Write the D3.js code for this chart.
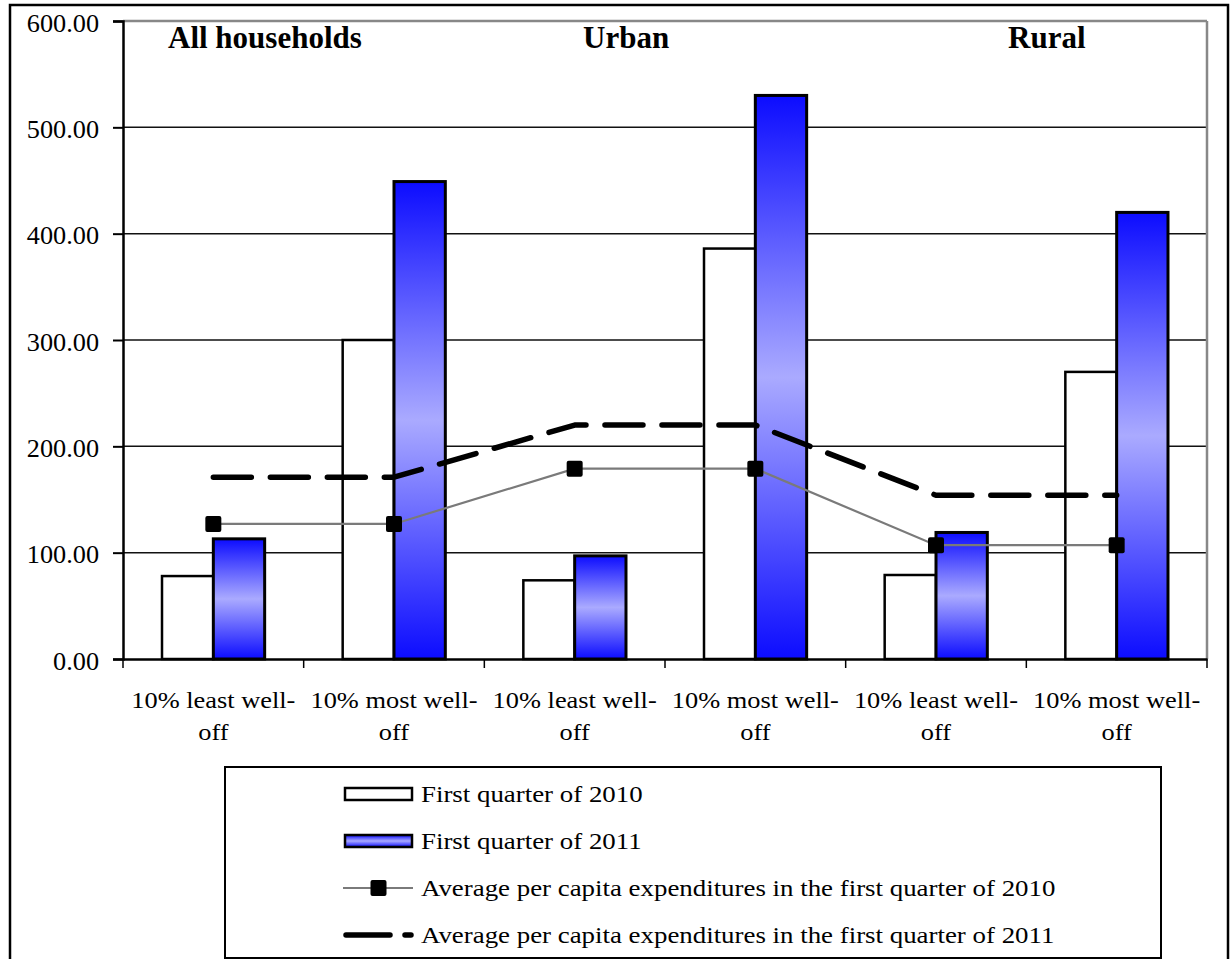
<!DOCTYPE html>
<html>
<head>
<meta charset="utf-8">
<script src="https://cdn.jsdelivr.net/npm/d3@7"></script>
<style>
  html, body { margin: 0; padding: 0; background: #fff; }
  svg { display: block; }
  text { font-family: "Liberation Serif", "Times New Roman", serif; fill: #000; }
</style>
</head>
<body>
<svg id="chart" width="1231" height="959"></svg>
<script>
// ---- data ----
const categories = [
  "10% least well-off", "10% most well-off",
  "10% least well-off", "10% most well-off",
  "10% least well-off", "10% most well-off"
];
const groupTitles = ["All households", "Urban", "Rural"];
const q1_2010 = [78, 300, 74, 386, 79, 270];
const q1_2011 = [113, 449, 97, 530, 119, 420];
const avg2010 = [127, 127, 179, 179, 107, 107];
const avg2011 = [171, 171, 220, 220, 154, 154];
const yTicks = [0, 100, 200, 300, 400, 500, 600];
const seriesNames = [
  "First quarter of 2010",
  "First quarter of 2011",
  "Average per capita expenditures in the first quarter of 2010",
  "Average per capita expenditures in the first quarter of 2011"
];

// ---- layout ----
const plot = { left: 123, right: 1207, top: 21, bottom: 659 };
const titleLeft = [168, 583, 1008];
const svg = d3.select("#chart");

const x = d3.scaleBand().domain(d3.range(categories.length))
  .range([plot.left, plot.right]).paddingInner(0).paddingOuter(0);
const xSub = d3.scaleBand().domain(["2010", "2011"])
  .range([0, x.bandwidth()]).paddingInner(0).paddingOuter(0.76);
const y = d3.scaleLinear().domain([0, 600]).range([plot.bottom, plot.top]);

// gradient for the 2011 bars: dark blue at the ends, pale in the middle
const defs = svg.append("defs");
function blueGradient(id) {
  const g = defs.append("linearGradient").attr("id", id)
    .attr("x1", 0).attr("y1", 0).attr("x2", 0).attr("y2", 1);
  g.append("stop").attr("offset", "0%").attr("stop-color", "#0c0cff");
  g.append("stop").attr("offset", "50%").attr("stop-color", "#aaaaff");
  g.append("stop").attr("offset", "100%").attr("stop-color", "#0c0cff");
}
blueGradient("blueV");

// outer frame
svg.append("rect").attr("x", 10).attr("y", 5).attr("width", 1218).attr("height", 970)
  .attr("fill", "#fff").attr("stroke", "#000").attr("stroke-width", 2.5);

// gridlines
svg.append("g").selectAll("line").data(yTicks.filter(d => d > 0)).join("line")
  .attr("x1", plot.left).attr("x2", plot.right)
  .attr("y1", d => y(d)).attr("y2", d => y(d))
  .attr("stroke", d => d === 600 ? "#888" : "#111")
  .attr("stroke-width", d => d === 600 ? 2.5 : 1.5);
// plot area right edge
svg.append("line").attr("x1", plot.right).attr("x2", plot.right)
  .attr("y1", plot.top).attr("y2", plot.bottom)
  .attr("stroke", "#888").attr("stroke-width", 2.5);

// horizontally widened serif text helper
function wide(sel, sx) {
  sel.each(function () {
    const t = d3.select(this);
    const tx = +t.attr("x") || 0, ty = +t.attr("y") || 0;
    t.attr("x", null).attr("y", null)
      .attr("transform", `translate(${tx},${ty}) scale(${sx},1)`);
  });
}

// y axis
const yAxis = svg.append("g").attr("transform", `translate(${plot.left},0)`)
  .call(d3.axisLeft(y).tickValues(yTicks).tickFormat(d3.format(".2f"))
    .tickSize(10).tickPadding(14));
yAxis.select(".domain").attr("stroke", "#000").attr("stroke-width", 2.5);
yAxis.selectAll(".tick line").attr("stroke", "#000").attr("stroke-width", 2);
yAxis.selectAll(".tick text")
  .attr("font-family", "Liberation Serif").attr("font-size", 25)
  .attr("dy", "0.4em").attr("x", -24 / 1.05)
  .attr("transform", "scale(1.05,1)");

// x axis
const xAxis = svg.append("g").attr("transform", `translate(0,${plot.bottom})`)
  .call(d3.axisBottom(x).tickSize(0).tickFormat(""));
xAxis.select(".domain").attr("stroke", "#000").attr("stroke-width", 2.5);
const boundaries = d3.range(categories.length + 1)
  .map(i => i < categories.length ? x(i) : x(i - 1) + x.bandwidth());
xAxis.selectAll(".bound").data(boundaries).join("line").attr("class", "bound")
  .attr("x1", d => d).attr("x2", d => d).attr("y1", 0).attr("y2", 9)
  .attr("stroke", "#000").attr("stroke-width", 1.5);

// category labels (two lines)
const catLabels = svg.append("g");
categories.forEach((c, i) => {
  const k = c.indexOf("well-") + 5;
  const lines = [c.slice(0, k), c.slice(k)];
  lines.forEach((ln, j) => {
    catLabels.append("text")
      .attr("x", x(i) + x.bandwidth() / 2).attr("y", 708 + j * 32)
      .attr("text-anchor", "middle").attr("font-size", 24).text(ln);
  });
});
wide(catLabels.selectAll("text"), 1.1);

// bars
const bars = svg.append("g");
bars.selectAll(".b2010").data(q1_2010).join("rect").attr("class", "b2010")
  .attr("x", (d, i) => x(i) + xSub("2010")).attr("width", xSub.bandwidth())
  .attr("y", d => y(d)).attr("height", d => y(0) - y(d))
  .attr("fill", "#fff").attr("stroke", "#000").attr("stroke-width", 2.5);
bars.selectAll(".b2011").data(q1_2011).join("rect").attr("class", "b2011")
  .attr("x", (d, i) => x(i) + xSub("2011")).attr("width", xSub.bandwidth())
  .attr("y", d => y(d)).attr("height", d => y(0) - y(d))
  .attr("fill", "url(#blueV)").attr("stroke", "#000").attr("stroke-width", 3);

// average lines
const cx = i => x(i) + x.bandwidth() / 2;
const line = d3.line().x((d, i) => cx(i)).y(d => y(d));
svg.append("path").datum(avg2011).attr("d", line)
  .attr("fill", "none").attr("stroke", "#000").attr("stroke-width", 5.5)
  .attr("stroke-linecap", "round").attr("stroke-linejoin", "round")
  .attr("stroke-dasharray", "38,19");
svg.append("path").datum(avg2010).attr("d", line)
  .attr("fill", "none").attr("stroke", "#7a7a7a").attr("stroke-width", 2.2);
svg.append("g").selectAll("rect").data(avg2010).join("rect")
  .attr("x", (d, i) => cx(i) - 8).attr("y", d => y(d) - 8)
  .attr("width", 16).attr("height", 16).attr("rx", 2).attr("fill", "#000");

// group titles
svg.append("g").selectAll("text").data(groupTitles).join("text")
  .attr("x", (d, i) => titleLeft[i]).attr("y", 48)
  .attr("font-size", 31).attr("font-weight", "bold").text(d => d);

// legend
const lg = svg.append("g");
lg.append("rect").attr("x", 225).attr("y", 767).attr("width", 936).attr("height", 191)
  .attr("fill", "#fff").attr("stroke", "#000").attr("stroke-width", 2);
const rowBase = [802, 849, 896, 943];
const sw = { x1: 345, x2: 412 };
// bar swatches
lg.append("rect").attr("x", sw.x1).attr("y", rowBase[0] - 14).attr("width", sw.x2 - sw.x1)
  .attr("height", 12).attr("fill", "#fff").attr("stroke", "#000").attr("stroke-width", 2.5);
lg.append("rect").attr("x", sw.x1).attr("y", rowBase[1] - 14).attr("width", sw.x2 - sw.x1)
  .attr("height", 12).attr("fill", "url(#blueV)").attr("stroke", "#000").attr("stroke-width", 2.5);
// line swatches
const ly3 = rowBase[2] - 8, ly4 = rowBase[3] - 8;
lg.append("line").attr("x1", sw.x1 - 2).attr("x2", sw.x2 + 1).attr("y1", ly3).attr("y2", ly3)
  .attr("stroke", "#7a7a7a").attr("stroke-width", 2.2);
lg.append("rect").attr("x", (sw.x1 + sw.x2) / 2 - 8).attr("y", ly3 - 8)
  .attr("width", 16).attr("height", 16).attr("rx", 2).attr("fill", "#000");
lg.append("line").attr("x1", sw.x1 + 1).attr("x2", sw.x2 - 1).attr("y1", ly4).attr("y2", ly4)
  .attr("stroke", "#000").attr("stroke-width", 5.5).attr("stroke-linecap", "round")
  .attr("stroke-dasharray", "44,15");
const legendText = lg.append("g");
legendText.selectAll("text").data(seriesNames).join("text")
  .attr("x", 421).attr("y", (d, i) => rowBase[i])
  .attr("font-size", 24).text(d => d);
wide(legendText.selectAll("text"), 1.12);
</script>
</body>
</html>
